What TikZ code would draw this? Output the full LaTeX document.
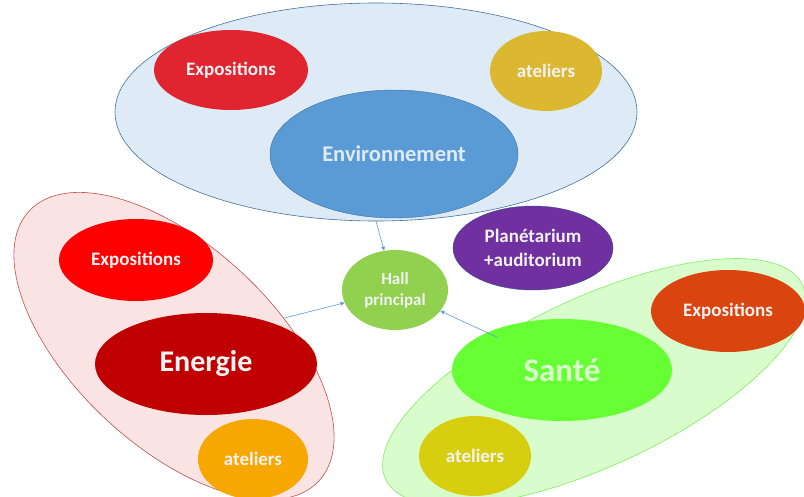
\documentclass[tikz,border=0pt]{standalone}
\usepackage{fontspec}
\setmainfont{Carlito}
\usetikzlibrary{shapes.geometric, arrows.meta}
\definecolor{linkblue}{HTML}{5B9BD5}
\definecolor{envzonebg}{HTML}{DEEBF7}
\definecolor{envzoneline}{HTML}{41719C}
\definecolor{enerzonebg}{HTML}{F9E3E3}
\definecolor{enerzoneline}{HTML}{C0504D}
\definecolor{santzonebg}{HTML}{D8FCCB}
\definecolor{santzoneline}{HTML}{7FEF5F}

\begin{document}
\begin{tikzpicture}[
    x=1pt, y=-1pt,
    zone/.style={ellipse, inner sep=0pt, line width=0.6pt},
    blob/.style={ellipse, inner sep=0pt, align=center, text=white!95!black,
                 font=\fontsize{19}{24}\selectfont\bfseries},
    big/.style={blob, font=\fontsize{30}{34}\selectfont\bfseries},
    e/.style={-{Triangle[length=4pt, width=3.5pt]}, line width=0.6pt, color=linkblue}
]
\path[use as bounding box, clip] (0,0) rectangle (804,496);

% zones
\node[zone, draw=envzoneline, fill=envzonebg, minimum width=522pt, minimum height=218pt] (envzone) at (376,112) {};
\node[zone, draw=enerzoneline, fill=enerzonebg, rotate=-43, minimum width=396pt, minimum height=200pt] (enerzone) at (174,346) {};
\node[zone, draw=santzoneline, fill=santzonebg, rotate=25, minimum width=460pt, minimum height=168pt] (santzone) at (594,382) {};

% Environnement
\node[blob, fill={rgb,255:red,224;green,36;blue,48}, minimum width=154pt, minimum height=80pt] (envexpo) at (231,70) {Expositions};
\node[blob, fill={rgb,255:red,219;green,184;blue,47}, minimum width=112pt, minimum height=80pt] (envatel) at (546,71) {ateliers};
\node[blob, draw=envzoneline, line width=0.4pt, fill=linkblue, text=envzonebg, font=\fontsize{22.5}{26}\selectfont\bfseries,
      minimum width=248pt, minimum height=128pt] (env) at (394,154) {Environnement};

% Energie
\node[blob, fill=red, minimum width=154pt, minimum height=82pt] (enerexpo) at (136,260) {Expositions};
\node[big, fill={rgb,255:red,192;green,0;blue,0}, minimum width=222pt, minimum height=102pt] (ener) at (206,364) {Energie};
\node[blob, fill={rgb,255:red,247;green,168;blue,0}, minimum width=110pt, minimum height=80pt] (eneratel) at (253,459) {ateliers};

% Santé
\node[blob, fill={rgb,255:red,217;green,68;blue,15}, minimum width=154pt, minimum height=82pt] (santexpo) at (728,311) {Expositions};
\node[big, fill={rgb,255:red,102;green,255;blue,51}, text=santzonebg, font=\fontsize{33}{36}\selectfont\bfseries,
      minimum width=220pt, minimum height=102pt] (sant) at (562,370) {Santé};
\node[blob, fill={rgb,255:red,214;green,206;blue,14}, minimum width=112pt, minimum height=80pt] (santatel) at (475,456) {ateliers};

% centre
\node[blob, fill={rgb,255:red,146;green,208;blue,80}, font=\fontsize{17}{21}\selectfont\bfseries,
      minimum width=106pt, minimum height=80pt] (hall) at (395,290) {Hall\\principal};
\node[blob, draw={rgb,255:red,47;green,82;blue,143}, line width=0.4pt, fill={rgb,255:red,112;green,48;blue,160},
      minimum width=160pt, minimum height=84pt] (plan) at (533,248) {Planétarium\\+auditorium};

\draw[e] (envzone.south) -- (hall);
\draw[e] (enerzone) -- (hall);
\draw[e] (santzone) -- (hall);
\end{tikzpicture}
\end{document}
